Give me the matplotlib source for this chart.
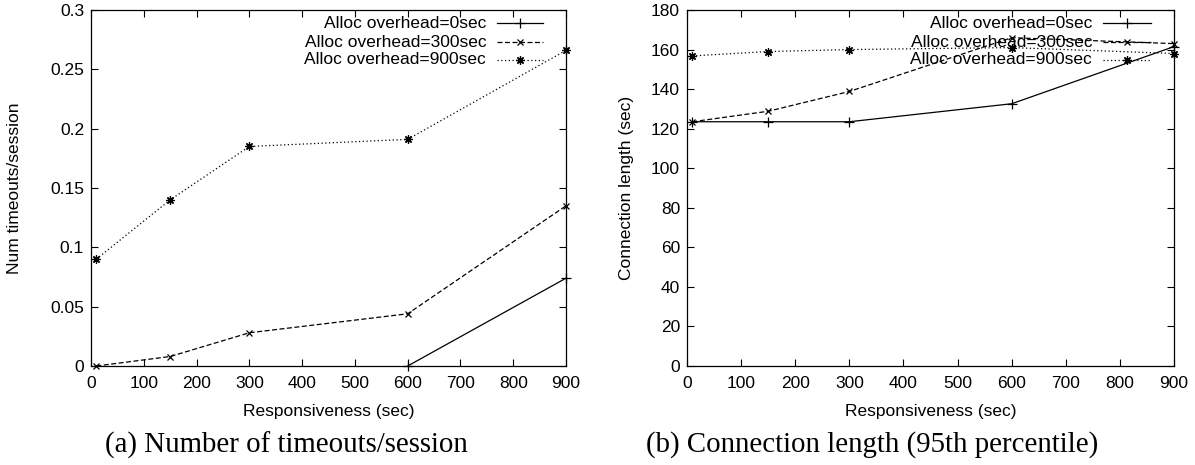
import matplotlib
matplotlib.use("Agg")
import matplotlib.pyplot as plt

# responsiveness values (sec)
x_all = [10, 150, 300, 600, 900]
x_zero = [600, 900]

labels = ["Alloc overhead=0sec", "Alloc overhead=300sec", "Alloc overhead=900sec"]

# (a) number of timeouts / session
timeouts_0 = [0.0, 0.074]
timeouts_300 = [0.0, 0.008, 0.028, 0.044, 0.135]
timeouts_900 = [0.090, 0.140, 0.185, 0.191, 0.266]

# (b) connection length, 95th percentile (sec)
connlen_0 = [123.5, 123.5, 123.5, 132.6, 161.5]
connlen_300 = [123.5, 128.8, 138.8, 166.0, 163.0]
connlen_900 = [156.8, 159.0, 160.0, 161.0, 158.0]

plt.rcParams['font.family'] = ['Liberation Sans', 'DejaVu Sans']
plt.rcParams['font.size'] = 12.5

styles = [
    dict(linestyle='-', marker='+', ms=7),
    dict(linestyle=(0, (4, 2)), marker='x', ms=5),
    dict(linestyle=(0, (1, 2)), marker=(8, 2, 0), ms=6),
]

W, H = 1195, 465
fig = plt.figure(figsize=(W / 100, H / 100), dpi=100)


def make_axes(x0, x1, y0, y1):
    return fig.add_axes([x0 / W, 1 - y1 / H, (x1 - x0) / W, (y1 - y0) / H])


def style_axes(ax):
    ax.tick_params(direction='in', top=True, right=True, length=5, width=0.8,
                   labelsize=12.5)
    ax.tick_params(axis='x', pad=7)
    ax.tick_params(axis='y', pad=5)
    for s in ax.spines.values():
        s.set_linewidth(0.9)


def draw(ax, series_x, series_y):
    for xs, ys, st in zip(series_x, series_y, styles):
        ax.plot(xs, ys, color='black', lw=0.9, mew=0.9, clip_on=False, **st)
    # gnuplot style key, text right aligned, sample on the right
    rows = [0.963, 0.910, 0.860]
    for lab, st, yy in zip(labels, styles, rows):
        ax.text(0.832, yy, lab, transform=ax.transAxes, ha='right', va='center',
                fontsize=12.5)
        ax.plot([0.855, 0.952], [yy, yy], transform=ax.transAxes, color='black',
                lw=0.9, linestyle=st['linestyle'])
        ax.plot([0.904], [yy], transform=ax.transAxes, color='black',
                marker=st['marker'], ms=st['ms'], mew=0.9, linestyle='none')


ax1 = make_axes(91, 566, 10, 366)
draw(ax1, [x_zero, x_all, x_all], [timeouts_0, timeouts_300, timeouts_900])
ax1.set_xlim(0, 900)
ax1.set_ylim(0, 0.3)
ax1.set_xticks(range(0, 901, 100))
ax1.set_yticks([0, 0.05, 0.1, 0.15, 0.2, 0.25, 0.3])
ax1.set_yticklabels(['0', '0.05', '0.1', '0.15', '0.2', '0.25', '0.3'])
ax1.set_xlabel("Responsiveness (sec)")
ax1.set_ylabel("Num timeouts/session")
ax1.xaxis.set_label_coords(0.5, -0.108)
ax1.yaxis.set_label_coords(-0.145, 0.5)
style_axes(ax1)

ax2 = make_axes(687, 1174, 10, 366)
draw(ax2, [x_all, x_all, x_all], [connlen_0, connlen_300, connlen_900])
ax2.set_xlim(0, 900)
ax2.set_ylim(0, 180)
ax2.set_xticks(range(0, 901, 100))
ax2.set_yticks(range(0, 181, 20))
ax2.set_xlabel("Responsiveness (sec)")
ax2.set_ylabel("Connection length (sec)")
ax2.xaxis.set_label_coords(0.5, -0.108)
ax2.yaxis.set_label_coords(-0.108, 0.5)
style_axes(ax2)

fig.text(286 / W, 1 - 445 / H, "(a) Number of timeouts/session", ha='center',
         va='center', fontsize=20.8, family=['Liberation Serif', 'DejaVu Serif'])
fig.text(872 / W, 1 - 445 / H, "(b) Connection length (95th percentile)", ha='center',
         va='center', fontsize=20.8, family=['Liberation Serif', 'DejaVu Serif'])

fig.savefig("out.png", dpi=100)
